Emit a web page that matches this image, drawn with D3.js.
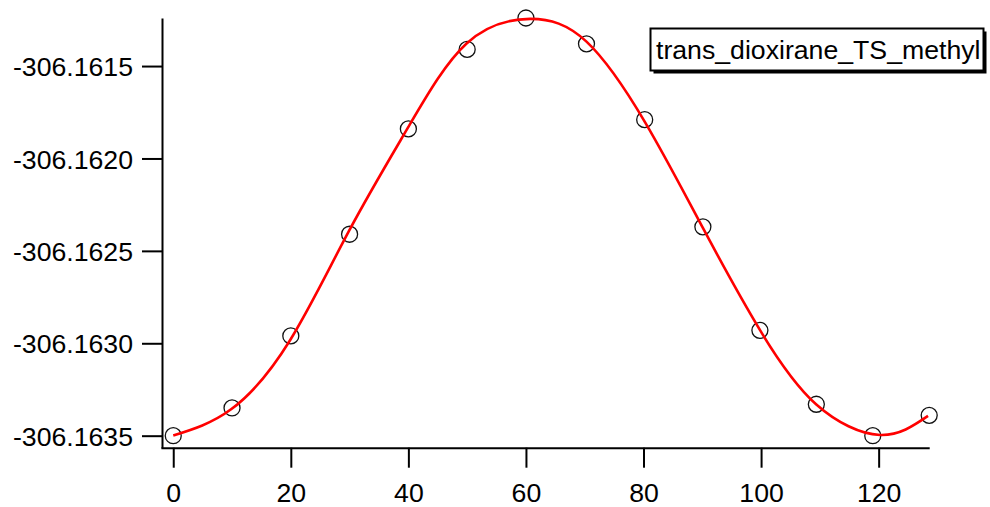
<!DOCTYPE html>
<html>
<head>
<meta charset="utf-8">
<script src="https://cdn.jsdelivr.net/npm/d3@7"></script>
<style>
  html, body { margin: 0; padding: 0; background: #fff; }
  svg { display: block; }
  text { font-family: "Liberation Sans", Arial, sans-serif; font-size: 20pt; fill: #000; }
</style>
</head>
<body>
<svg id="chart" width="990" height="507"></svg>
<script>
// Scan angle (degrees) and computed energies (hartree)
const angle = [0, 10, 20, 30, 40, 50, 60, 70.3, 80.2, 90.1, 99.8, 109.4, 119.0, 128.6];
const energy = [-306.16350, -306.16335, -306.16296, -306.16241, -306.16184, -306.16141, -306.16124,
                -306.16138, -306.16179, -306.16237, -306.16293, -306.16333, -306.16350, -306.16339];

// Fitted curve, sampled along the scan
const fitAngle = [0, 9.9, 19.9, 29.9, 39.9, 49.9, 60.7, 70.3, 80.3, 90.1, 99.9, 109.4, 120.2, 128.4];
const fitEnergy = [-306.163499, -306.163356, -306.162982, -306.162392, -306.161835, -306.161378,
                   -306.161245, -306.161368, -306.161806, -306.162376, -306.162933, -306.163331,
                   -306.163496, -306.163393];

const xTicks = [0, 20, 40, 60, 80, 100, 120];
const yTicks = [-306.1635, -306.1630, -306.1625, -306.1620, -306.1615];
const yTickLabels = ["-306.1635", "-306.1630", "-306.1625", "-306.1620", "-306.1615"];
const seriesName = "trans_dioxirane_TS_methyl";

const svg = d3.select("#chart");

const x = d3.scaleLinear().domain([-2.1, 128.6]).range([160.9, 929.2]);
const y = d3.scaleLinear().domain([-306.163565, -306.16124]).range([447.7, 18]);

// Axes
const xAxis = d3.axisBottom(x).tickValues(xTicks).tickFormat(d3.format("d"))
  .tickSizeInner(20).tickSizeOuter(0).tickPadding(15);
const yAxis = d3.axisLeft(y).tickValues(yTicks).tickFormat((d, i) => yTickLabels[i])
  .tickSizeInner(20).tickSizeOuter(0).tickPadding(9);

const gx = svg.append("g").attr("transform", "translate(0,447.7)").call(xAxis);
const gy = svg.append("g").attr("transform", "translate(162,0)").call(yAxis);

[gx, gy].forEach(g => {
  g.attr("font-family", null).attr("font-size", null);
  g.select(".domain").attr("stroke", "#000").attr("stroke-width", 2);
  g.selectAll(".tick line").attr("stroke", "#000").attr("stroke-width", 2);
  g.selectAll(".tick text").attr("fill", "#000");
});
gy.selectAll(".tick text").attr("dy", "0.36em");

// Data markers
const pts = angle.map((a, i) => ({ a, e: energy[i] }));
svg.append("g").selectAll("circle").data(pts).join("circle")
  .attr("cx", d => x(d.a))
  .attr("cy", d => y(d.e))
  .attr("r", 8)
  .attr("fill", "none")
  .attr("stroke", "#111")
  .attr("stroke-width", 1.3);

// Fit curve
const fitPts = fitAngle.map((a, i) => ({ a, e: fitEnergy[i] }));
svg.append("path").datum(fitPts)
  .attr("fill", "none")
  .attr("stroke", "#ff0000")
  .attr("stroke-width", 2.6)
  .attr("d", d3.line().x(d => x(d.a)).y(d => y(d.e)).curve(d3.curveNatural));

// Legend box with drop shadow
const legend = svg.append("g");
legend.append("rect").attr("x", 653.5).attr("y", 31.5).attr("width", 333).attr("height", 42)
  .attr("fill", "#000");
legend.append("rect").attr("x", 650.5).attr("y", 28.5).attr("width", 333).attr("height", 42)
  .attr("fill", "#fff").attr("stroke", "#000").attr("stroke-width", 2);
legend.append("text").attr("x", 656).attr("y", 59).text(seriesName);
</script>
</body>
</html>
